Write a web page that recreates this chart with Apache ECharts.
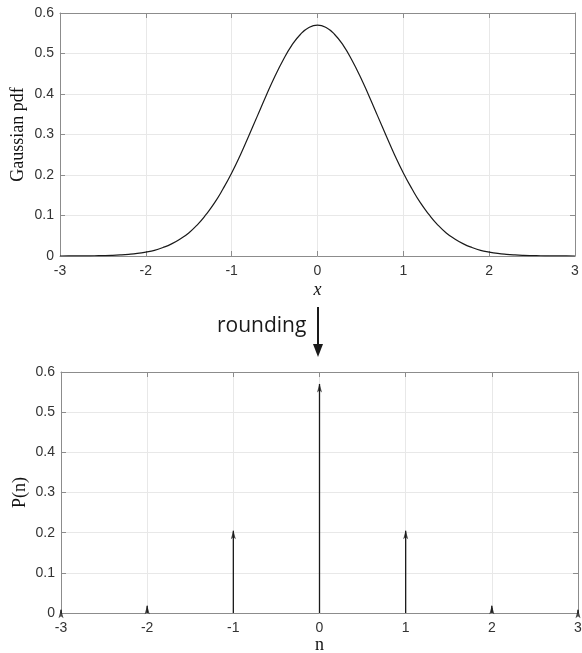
<!DOCTYPE html>
<html>
<head>
<meta charset="utf-8">
<script src="https://cdn.jsdelivr.net/npm/echarts@6/dist/echarts.min.js"></script>
<style>
  html, body { margin: 0; padding: 0; background: #fff; }
  #chart { width: 582px; height: 653px; }
</style>
</head>
<body>
<div id="chart"></div>
<script>
// Gaussian pdf (x step 0.1)
const xs = [
  -3.0, -2.9, -2.8, -2.7, -2.6, -2.5, -2.4, -2.3, -2.2, -2.1,
  -2.0, -1.9, -1.8, -1.7, -1.6, -1.5, -1.4, -1.3, -1.2, -1.1,
  -1.0, -0.9, -0.8, -0.7, -0.6, -0.5, -0.4, -0.3, -0.2, -0.1,
  0.0, 0.1, 0.2, 0.3, 0.4, 0.5, 0.6, 0.7, 0.8, 0.9,
  1.0, 1.1, 1.2, 1.3, 1.4, 1.5, 1.6, 1.7, 1.8, 1.9,
  2.0, 2.1, 2.2, 2.3, 2.4, 2.5, 2.6, 2.7, 2.8, 2.9, 3.0
]
const pdf = [
  0.0, 0.0001, 0.0002, 0.0003, 0.0006, 0.001, 0.0016, 0.0026, 0.0041, 0.0063,
  0.0096, 0.014, 0.021, 0.030, 0.042, 0.057, 0.077, 0.102, 0.131, 0.166,
  0.205, 0.249, 0.297, 0.346, 0.395, 0.442, 0.484, 0.520, 0.547, 0.564,
  0.570, 0.564, 0.547, 0.520, 0.484, 0.442, 0.395, 0.346, 0.297, 0.249,
  0.205, 0.166, 0.131, 0.102, 0.077, 0.057, 0.042, 0.030, 0.021, 0.014,
  0.0096, 0.0063, 0.0041, 0.0026, 0.0016, 0.001, 0.0006, 0.0003, 0.0002, 0.0001, 0.0
]

// rounded values P(n)
const ns = [-3, -2, -1, 0, 1, 2, 3]
const pn = [0.008, 0.018, 0.205, 0.57, 0.205, 0.018, 0.008]

const tickLabel = {
  color: '#333',
  fontFamily: 'Liberation Sans, Arial, sans-serif',
  fontSize: 14,
}
const axisGray = '#8c8c8c'
const gridGray = '#e8e8e8'
const serif = 'Liberation Serif, Times New Roman, serif'

const xAxisBase = (gridIndex) => ({
  type: 'value',
  gridIndex,
  min: -3,
  max: 3,
  interval: 1,
  axisLine: { onZero: false, lineStyle: { color: axisGray } },
  axisTick: { inside: true, length: 5, lineStyle: { color: axisGray } },
  splitLine: { show: true, lineStyle: { color: gridGray } },
  axisLabel: { ...tickLabel, margin: 8 },
})

const yAxisBase = (gridIndex) => ({
  type: 'value',
  gridIndex,
  min: 0,
  max: 0.6,
  interval: 0.1,
  axisLine: { show: true, onZero: false, lineStyle: { color: axisGray } },
  axisTick: { show: true, inside: true, length: 5, lineStyle: { color: axisGray } },
  splitLine: { show: true, lineStyle: { color: gridGray } },
  axisLabel: { ...tickLabel, margin: 6, formatter: (v) => String(Math.round(v * 10) / 10) },
})

// box axes (top / right) with inward ticks, no labels
const xBox = (gridIndex) => ({
  ...xAxisBase(gridIndex),
  position: 'top',
  axisLabel: { show: false },
  splitLine: { show: false },
})
const yBox = (gridIndex) => ({
  ...yAxisBase(gridIndex),
  position: 'right',
  axisLabel: { show: false },
  splitLine: { show: false },
})

const chart = echarts.init(document.getElementById('chart'))

const option = {
  animation: false,
  backgroundColor: '#fff',
  grid: [
    { left: 60, top: 13, width: 515, height: 243, outerBoundsMode: 'none', containLabel: false },
    { left: 61, top: 372, width: 517, height: 241, outerBoundsMode: 'none', containLabel: false },
  ],
  xAxis: [
    {
      ...xAxisBase(0),
      name: 'x',
      nameLocation: 'middle',
      nameGap: 25,
      nameMoveOverlap: false,
      nameTextStyle: { fontFamily: serif, fontStyle: 'italic', fontSize: 18, color: '#111' },
    },
    {
      ...xAxisBase(1),
      name: 'n',
      nameLocation: 'middle',
      nameGap: 23,
      nameMoveOverlap: false,
      nameTextStyle: { fontFamily: serif, fontSize: 18, color: '#111' },
    },
    xBox(0),
    xBox(1),
  ],
  yAxis: [
    {
      ...yAxisBase(0),
      name: 'Gaussian pdf',
      nameLocation: 'middle',
      nameGap: 33,
      nameMoveOverlap: false,
      nameTextStyle: { fontFamily: serif, fontSize: 18, color: '#111' },
    },
    {
      ...yAxisBase(1),
      name: 'P(n)',
      nameLocation: 'middle',
      nameGap: 32,
      nameMoveOverlap: false,
      nameTextStyle: { fontFamily: serif, fontSize: 18, color: '#111' },
    },
    yBox(0),
    yBox(1),
  ],
  series: [
    {
      type: 'line',
      xAxisIndex: 0,
      yAxisIndex: 0,
      data: xs.map((x, i) => [x, pdf[i]]),
      smooth: true,
      showSymbol: false,
      lineStyle: { color: '#1a1a1a', width: 1.2 },
    },
    {
      type: 'bar',
      xAxisIndex: 1,
      yAxisIndex: 1,
      data: ns.map((n, i) => [n, pn[i]]),
      barWidth: 1.3,
      itemStyle: { color: '#1a1a1a' },
    },
    {
      type: 'scatter',
      xAxisIndex: 1,
      yAxisIndex: 1,
      data: ns.map((n, i) => [n, pn[i]]),
      symbol: 'path://M5,0 L10,14 L5,11 L0,14 Z',
      symbolSize: [5, 9],
      symbolOffset: [0, 4],
      itemStyle: { color: '#1a1a1a' },
      z: 5,
    },
  ],
  graphic: [
    {
      type: 'text',
      left: 217,
      top: 316,
      style: {
        text: 'rounding',
        fontFamily: 'Open Sans, Liberation Sans, sans-serif',
        fontSize: 21,
        fill: '#1a1a1a',
      },
    },
    {
      type: 'line',
      shape: { x1: 318, y1: 307, x2: 318, y2: 347 },
      style: { stroke: '#1a1a1a', lineWidth: 2 },
    },
    {
      type: 'polygon',
      shape: { points: [[313, 344], [323, 344], [318, 357]] },
      style: { fill: '#1a1a1a' },
    },
  ],
}

chart.setOption(option)
</script>
</body>
</html>
